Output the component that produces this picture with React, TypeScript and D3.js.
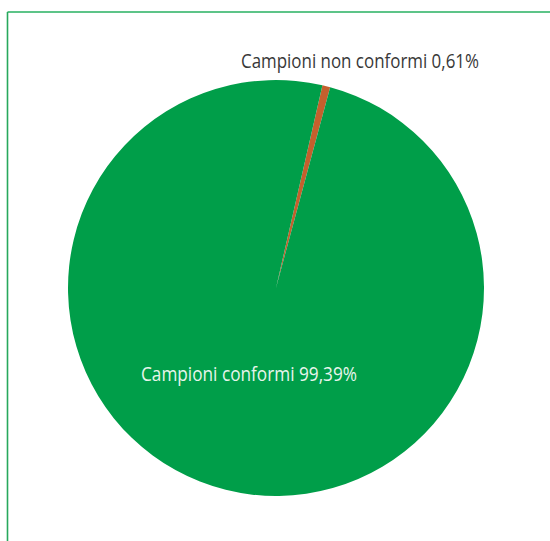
import React from "react";
import * as d3 from "d3";

const categories = ["Campioni non conformi", "Campioni conformi"];
const values = [0.61, 99.39];
const labels = ["Campioni non conformi 0,61%", "Campioni conformi 99,39%"];
const colors = ["#c4602d", "#009e49"];

export default function App() {
  const W = 550, H = 541;
  const cx = 276, cy = 288, r = 208;
  const start = (12.9 * Math.PI) / 180;
  const pie = d3.pie<number>().sort(null).startAngle(start).endAngle(start + 2 * Math.PI);
  const arcs = pie(values);
  const arc = d3.arc<d3.PieArcDatum<number>>().innerRadius(0).outerRadius(r);
  return (
    <svg width={W} height={H} style={{ position: "absolute", left: 0, top: 0 }}>
      <rect width={W} height={H} fill="#fff" />
      <line x1={7.5} y1={12} x2={W} y2={12} stroke="#27b061" strokeWidth={1.6} />
      <line x1={7.5} y1={12} x2={7.5} y2={H} stroke="#27a85c" strokeWidth={1.6} />
      <g transform={`translate(${cx},${cy})`}>
        {arcs.map((a, i) => (
          <path key={categories[i]} d={arc(a) || ""} fill={colors[i]} />
        ))}
      </g>
      <text x={241} y={67.5} fontFamily="Open Sans, sans-serif" fontSize={20} fill="#383838" textLength={238} lengthAdjust="spacingAndGlyphs">
        {labels[0]}
      </text>
      <text x={141} y={380.5} fontFamily="Open Sans, sans-serif" fontSize={20} fill="#e8f5ec" textLength={216} lengthAdjust="spacingAndGlyphs">
        {labels[1]}
      </text>
    </svg>
  );
}
